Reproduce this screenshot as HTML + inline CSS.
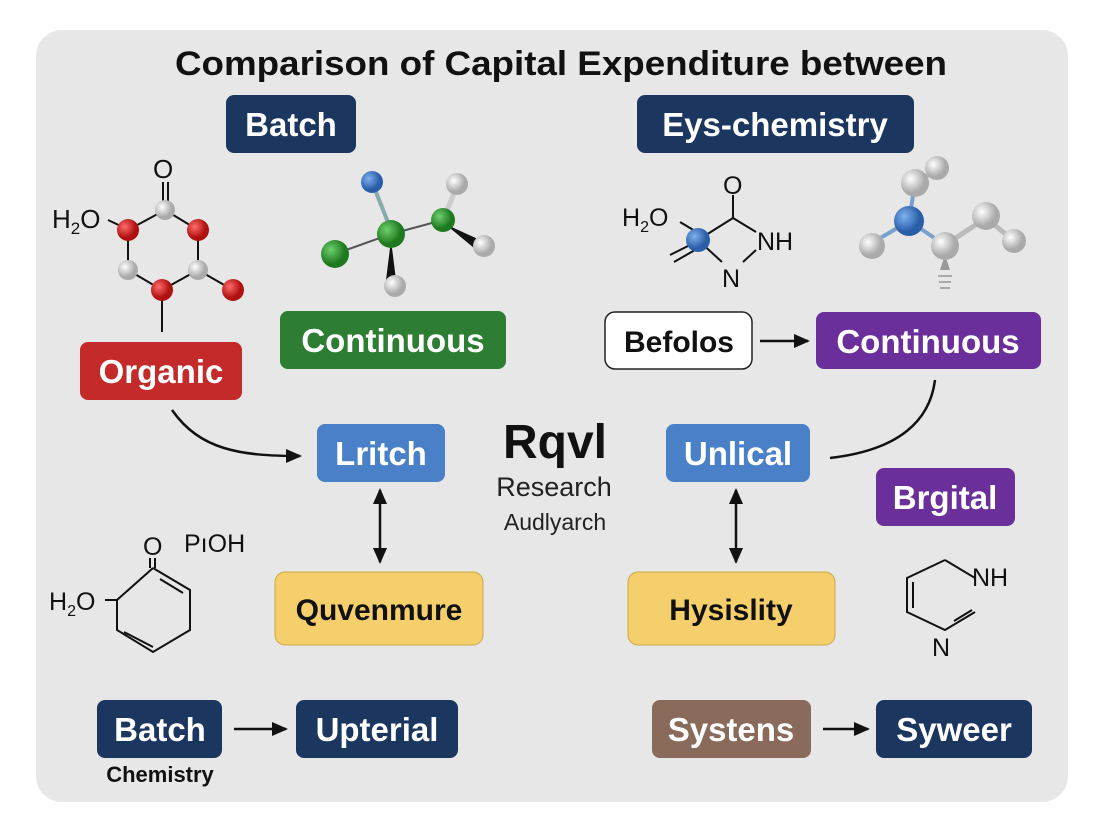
<!DOCTYPE html>
<html><head><meta charset="utf-8"><style>
html,body{margin:0;padding:0;background:#fff;}
svg{display:block;font-family:"Liberation Sans",sans-serif;}
</style></head><body>
<svg width="1104" height="832" viewBox="0 0 1104 832">
<defs>
<marker id="ah" markerWidth="16" markerHeight="14" refX="14" refY="7" orient="auto" markerUnits="userSpaceOnUse"><path d="M0,0 L16,7 L0,14 z" fill="#111"/></marker>
<marker id="ahs" markerWidth="16" markerHeight="14" refX="2" refY="7" orient="auto" markerUnits="userSpaceOnUse"><path d="M16,0 L0,7 L16,14 z" fill="#111"/></marker>
<radialGradient id="gr" cx="35%" cy="35%"><stop offset="0" stop-color="#ff6b6b"/><stop offset="1" stop-color="#b01010"/></radialGradient>
<radialGradient id="gw" cx="35%" cy="35%"><stop offset="0" stop-color="#fff"/><stop offset="1" stop-color="#aaa"/></radialGradient>
<radialGradient id="gg" cx="35%" cy="35%"><stop offset="0" stop-color="#6fd06f"/><stop offset="1" stop-color="#1f7a1f"/></radialGradient>
<radialGradient id="gb" cx="35%" cy="35%"><stop offset="0" stop-color="#7fb0ee"/><stop offset="1" stop-color="#2a5ea8"/></radialGradient>
</defs>
<rect x="36" y="30" width="1032" height="772" rx="26" fill="#e7e7e7"/>
<text x="561" y="75" text-anchor="middle" font-size="34" font-weight="bold" fill="#111" textLength="772" lengthAdjust="spacingAndGlyphs">Comparison of Capital Expenditure between</text>

<g font-weight="bold" text-anchor="middle" fill="#fff" font-size="33">
<rect x="226" y="95" width="130" height="58" rx="8" fill="#1b365f"/><text x="291" y="136">Batch</text>
<rect x="637" y="95" width="277" height="58" rx="8" fill="#1b365f"/><text x="775" y="136">Eys-chemistry</text>
<rect x="280" y="311" width="226" height="58" rx="8" fill="#2d7d33"/><text x="393" y="352">Continuous</text>
<rect x="80" y="342" width="162" height="58" rx="8" fill="#c42a2a"/><text x="161" y="383">Organic</text>
<rect x="605" y="312" width="147" height="57" rx="10" fill="#fff" stroke="#222" stroke-width="1.5"/><text x="679" y="352" font-size="30" fill="#111">Befolos</text>
<rect x="816" y="312" width="225" height="57" rx="8" fill="#6b2f9b"/><text x="928" y="353">Continuous</text>
<rect x="317" y="424" width="128" height="58" rx="8" fill="#4a80c8"/><text x="381" y="465">Lritch</text>
<rect x="666" y="424" width="144" height="58" rx="8" fill="#4a80c8"/><text x="738" y="465">Unlical</text>
<rect x="876" y="468" width="139" height="58" rx="8" fill="#6b2f9b"/><text x="945" y="509">Brgital</text>
<rect x="275" y="572" width="208" height="73" rx="10" fill="#f4cf6b" stroke="#c9a84a"/><text x="379" y="620" font-size="30" fill="#111">Quvenmure</text>
<rect x="628" y="572" width="207" height="73" rx="10" fill="#f4cf6b" stroke="#c9a84a"/><text x="731" y="620" font-size="30" fill="#111">Hysislity</text>
<rect x="97" y="700" width="125" height="58" rx="8" fill="#1b365f"/><text x="160" y="741">Batch</text>
<rect x="296" y="700" width="162" height="58" rx="8" fill="#1b365f"/><text x="377" y="741">Upterial</text>
<rect x="652" y="700" width="159" height="58" rx="8" fill="#8a6a5b"/><text x="731" y="741">Systens</text>
<rect x="876" y="700" width="156" height="58" rx="8" fill="#1b365f"/><text x="954" y="741">Syweer</text>
</g>
<text x="160" y="782" text-anchor="middle" font-size="22" font-weight="bold" fill="#111">Chemistry</text>

<text x="555" y="458" text-anchor="middle" font-size="48" font-weight="bold" fill="#111">Rqvl</text>
<text x="554" y="496" text-anchor="middle" font-size="27" fill="#222">Research</text>
<text x="555" y="530" text-anchor="middle" font-size="23" fill="#222">Audlyarch</text>

<g stroke="#111" stroke-width="2.5" fill="none">
<path d="M172,410 C200,450 240,456 300,456" marker-end="url(#ah)"/>
<path d="M380,490 L380,562" marker-end="url(#ah)" marker-start="url(#ahs)"/>
<path d="M736,490 L736,562" marker-end="url(#ah)" marker-start="url(#ahs)"/>
<path d="M830,458 C900,450 930,420 935,380"/>
<path d="M760,341 L808,341" marker-end="url(#ah)"/>
<path d="M234,729 L286,729" marker-end="url(#ah)"/>
<path d="M823,729 L868,729" marker-end="url(#ah)"/>
</g>

<!-- molecule 1 -->
<g stroke="#111" stroke-width="2">
<line x1="163" y1="182" x2="163" y2="208"/><line x1="168" y1="182" x2="168" y2="208"/>
<line x1="165" y1="210" x2="128" y2="230"/><line x1="165" y1="210" x2="198" y2="230"/>
<line x1="128" y1="230" x2="128" y2="270"/><line x1="198" y1="230" x2="198" y2="270"/>
<line x1="128" y1="270" x2="162" y2="290"/><line x1="198" y1="270" x2="162" y2="290"/>
<line x1="198" y1="270" x2="233" y2="290"/><line x1="162" y1="290" x2="162" y2="332"/>
<line x1="108" y1="220" x2="125" y2="228"/>
</g>
<text x="153" y="178" font-size="26" fill="#111">O</text>
<text x="52" y="228" font-size="26" fill="#111">H<tspan font-size="17" dy="6">2</tspan><tspan dy="-6">O</tspan></text>
<circle cx="165" cy="210" r="10" fill="url(#gw)"/>
<circle cx="128" cy="230" r="11" fill="url(#gr)"/><circle cx="198" cy="230" r="11" fill="url(#gr)"/>
<circle cx="128" cy="270" r="10" fill="url(#gw)"/><circle cx="198" cy="270" r="10" fill="url(#gw)"/>
<circle cx="162" cy="290" r="11" fill="url(#gr)"/><circle cx="233" cy="290" r="11" fill="url(#gr)"/>

<!-- molecule 2 -->
<g stroke="#555" stroke-width="2">
<line x1="372" y1="182" x2="391" y2="230" stroke="#8aa" stroke-width="4"/>
<line x1="335" y1="254" x2="391" y2="234"/><line x1="391" y1="234" x2="443" y2="220"/>
<line x1="443" y1="220" x2="457" y2="186" stroke="#ccc" stroke-width="5"/>
</g>
<polygon points="391,240 386,280 396,280" fill="#111"/>
<polygon points="445,224 480,240 474,248" fill="#111"/>
<circle cx="372" cy="182" r="11" fill="url(#gb)"/>
<circle cx="391" cy="234" r="14" fill="url(#gg)"/>
<circle cx="335" cy="254" r="14" fill="url(#gg)"/>
<circle cx="443" cy="220" r="12" fill="url(#gg)"/>
<circle cx="457" cy="184" r="11" fill="url(#gw)"/>
<circle cx="484" cy="246" r="11" fill="url(#gw)"/>
<circle cx="395" cy="286" r="11" fill="url(#gw)"/>

<!-- molecule 3 -->
<g stroke="#111" stroke-width="2">
<line x1="680" y1="222" x2="700" y2="234"/>
<line x1="700" y1="240" x2="670" y2="255"/><line x1="702" y1="246" x2="674" y2="262"/>
<line x1="698" y1="240" x2="733" y2="218"/><line x1="733" y1="218" x2="756" y2="232"/>
<line x1="733" y1="218" x2="733" y2="195"/>
<line x1="698" y1="240" x2="722" y2="262"/><line x1="743" y1="262" x2="756" y2="250"/>
</g>
<text x="723" y="194" font-size="25" fill="#111">O</text>
<text x="622" y="226" font-size="25" fill="#111">H<tspan font-size="16" dy="6">2</tspan><tspan dy="-6">O</tspan></text>
<text x="757" y="250" font-size="25" fill="#111">NH</text>
<text x="722" y="287" font-size="25" fill="#111">N</text>
<circle cx="698" cy="240" r="12" fill="url(#gb)"/>

<!-- molecule 4 -->
<g stroke="#7aa0d0" stroke-width="4">
<line x1="909" y1="221" x2="872" y2="243"/><line x1="909" y1="221" x2="945" y2="245"/>
<line x1="909" y1="221" x2="915" y2="183"/>
</g>
<g stroke="#bbb" stroke-width="5">
<line x1="915" y1="183" x2="937" y2="170"/><line x1="945" y1="245" x2="986" y2="218"/><line x1="986" y1="218" x2="1014" y2="241"/>
</g>
<polygon points="945,255 940,270 950,270" fill="#999"/>
<line x1="938" y1="276" x2="952" y2="276" stroke="#aaa" stroke-width="2"/><line x1="939" y1="282" x2="951" y2="282" stroke="#aaa" stroke-width="2"/><line x1="940" y1="288" x2="950" y2="288" stroke="#aaa" stroke-width="2"/>
<circle cx="937" cy="168" r="12" fill="url(#gw)"/>
<circle cx="915" cy="183" r="14" fill="url(#gw)"/>
<circle cx="909" cy="221" r="15" fill="url(#gb)"/>
<circle cx="872" cy="246" r="13" fill="url(#gw)"/>
<circle cx="945" cy="246" r="14" fill="url(#gw)"/>
<circle cx="986" cy="216" r="14" fill="url(#gw)"/>
<circle cx="1014" cy="241" r="12" fill="url(#gw)"/>

<!-- molecule 5 -->
<g stroke="#111" stroke-width="2" fill="none">
<path d="M153,568 L190,590 L190,630 L153,652 L117,630 L117,600 L153,568"/>
<line x1="155" y1="568" x2="155" y2="558"/><line x1="150" y1="568" x2="150" y2="558"/>
<line x1="160" y1="579" x2="183" y2="593"/>
<line x1="124" y1="632" x2="153" y2="647"/>
<line x1="105" y1="600" x2="117" y2="600"/>
</g>
<text x="143" y="555" font-size="25" fill="#111">O</text>
<text x="184" y="552" font-size="25" fill="#111">PıOH</text>
<text x="49" y="610" font-size="25" fill="#111">H<tspan font-size="16" dy="6">2</tspan><tspan dy="-6">O</tspan></text>

<!-- molecule 6 -->
<g stroke="#111" stroke-width="2" fill="none">
<path d="M945,560 L975,578 M975,612 L945,630 L907,612 L907,578 L945,560"/>
<line x1="913" y1="582" x2="913" y2="608"/>
<line x1="972" y1="610" x2="954" y2="621"/>
</g>
<text x="972" y="586" font-size="25" fill="#111">NH</text>
<text x="932" y="656" font-size="25" fill="#111">N</text>
</svg>
</body></html>
